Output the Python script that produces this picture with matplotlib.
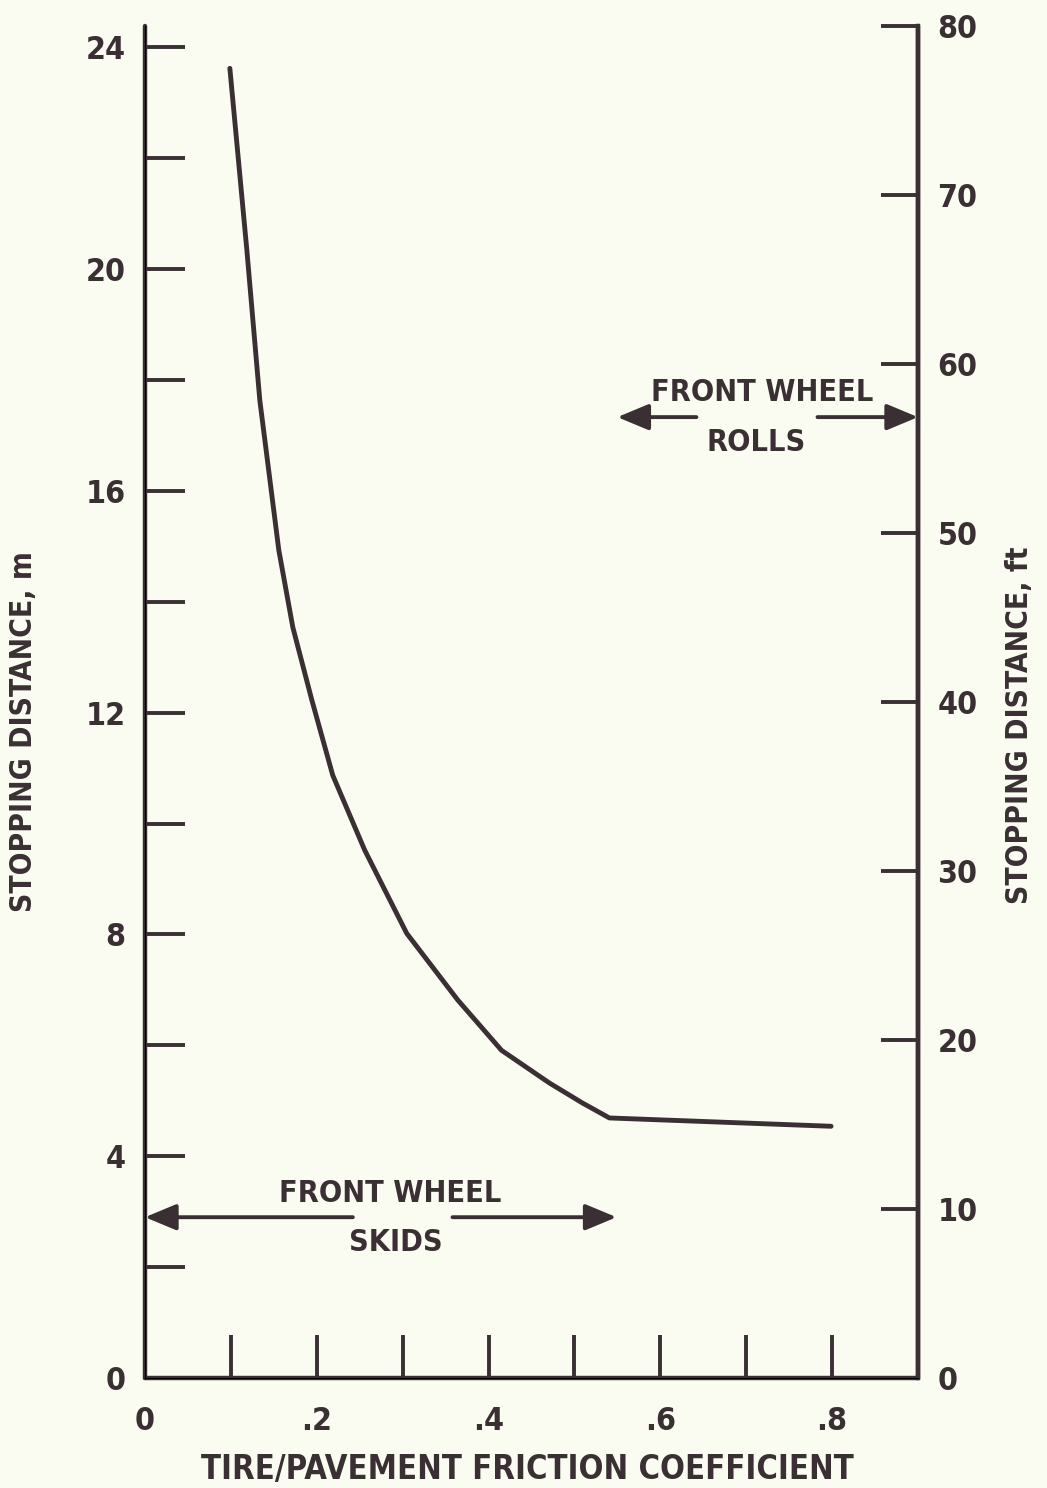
import matplotlib
matplotlib.use("Agg")
import matplotlib.pyplot as plt
from matplotlib.ticker import FixedLocator, FixedFormatter

# ---- data ----
mu = [0.0988, 0.1186, 0.1337, 0.1558, 0.1721, 0.1942, 0.2186, 0.2558, 0.3047,
      0.3640, 0.4151, 0.4709, 0.5093, 0.5407, 0.7988]
dist_m = [23.62, 20.34, 17.63, 14.93, 13.54, 12.23, 10.87, 9.52, 8.02,
          6.82, 5.91, 5.32, 4.96, 4.69, 4.54]

x_major = [0, 0.2, 0.4, 0.6, 0.8]
x_major_labels = ["0", ".2", ".4", ".6", ".8"]
x_minor = [0.1, 0.3, 0.5, 0.7]
y_major = [0, 4, 8, 12, 16, 20, 24]
y_minor = [2, 6, 10, 14, 18, 22]
ft_ticks = [0, 10, 20, 30, 40, 50, 60, 70, 80]

# annotation geometry (data coords)
skid_y = 2.9
skid_left = (0.0, 0.242)
skid_right = (0.358, 0.549)
roll_y = 17.33
roll_left = (0.55, 0.642)
roll_right = (0.783, 0.9)

FT_PER_M = 3.28084
INK = "#3a3034"
BG = "#fbfcf1"
FAM = ["DejaVu Sans"]
STRETCH = "condensed"

plt.rcParams["font.family"] = FAM
plt.rcParams["font.weight"] = "bold"
plt.rcParams["font.stretch"] = STRETCH

W, H = 1047, 1488
fig = plt.figure(figsize=(W / 100, H / 100), dpi=100, facecolor=BG)
ax = fig.add_axes([145 / W, 1 - 1378 / H, 773 / W, 1352 / H])
ax.set_facecolor(BG)

ax.plot(mu, dist_m, color=INK, lw=3.5, solid_capstyle="round",
        solid_joinstyle="round")

ax.set_xlim(0, 0.9)
ax.set_ylim(0, 80 / FT_PER_M)

for s in ["left", "bottom", "right"]:
    ax.spines[s].set_linewidth(3.2)
    ax.spines[s].set_color(INK)
    ax.spines[s].set_capstyle("round")
ax.spines["top"].set_visible(False)

ax.xaxis.set_major_locator(FixedLocator(x_major))
ax.xaxis.set_major_formatter(FixedFormatter(x_major_labels))
ax.xaxis.set_minor_locator(FixedLocator(x_minor))
ax.yaxis.set_major_locator(FixedLocator(y_major))
ax.yaxis.set_minor_locator(FixedLocator(y_minor))

tick_font = dict(family=FAM, weight="bold", stretch=STRETCH, size=23)
ax.tick_params(axis="x", which="both", direction="in", length=31, width=2.8,
               color=INK, labelcolor=INK, pad=20)
ax.tick_params(axis="y", which="both", direction="in", length=29, width=2.8,
               color=INK, labelcolor=INK, pad=14)
ax.tick_params(axis="y", which="both", right=False)

# right axis in feet
ax2 = ax.twinx()
ax2.set_ylim(0, 80)
ax2.spines["top"].set_visible(False)
ax2.spines["right"].set_linewidth(3.2)
ax2.spines["right"].set_color(INK)
ax2.yaxis.set_major_locator(FixedLocator(ft_ticks))
ax2.tick_params(axis="y", direction="in", length=27, width=2.8, color=INK,
                labelcolor=INK, pad=14)

for lab in ax.get_xticklabels() + ax.get_yticklabels() + ax2.get_yticklabels():
    lab.set_fontproperties(tick_font)

label_kw = dict(color=INK, fontweight="bold", fontstretch=STRETCH,
                ha="center", va="center")
fig.text(527 / W, 1 - 1470 / H, "TIRE/PAVEMENT FRICTION COEFFICIENT",
         fontsize=23.5, **label_kw)
fig.text(24 / W, 1 - 732 / H, "STOPPING DISTANCE, m", rotation=90,
         fontsize=21.5, **label_kw)
fig.text(1020 / W, 1 - 725 / H, "STOPPING DISTANCE, ft", rotation=90,
         fontsize=21.5, **label_kw)

arrow_kw = dict(arrowstyle="-|>,head_length=1.2,head_width=0.5",
                color=INK, lw=2.8, shrinkA=0, shrinkB=0, mutation_scale=16)

# FRONT WHEEL SKIDS
ax.annotate("", xy=(skid_left[0], skid_y), xytext=(skid_left[1], skid_y),
            arrowprops=arrow_kw)
ax.annotate("", xy=(skid_right[1], skid_y), xytext=(skid_right[0], skid_y),
            arrowprops=arrow_kw)
ax.text(0.285, 3.33, "FRONT WHEEL", fontsize=22, **label_kw)
ax.text(0.292, 2.45, "SKIDS", fontsize=22, **label_kw)

# FRONT WHEEL ROLLS
ax.annotate("", xy=(roll_left[0], roll_y), xytext=(roll_left[1], roll_y),
            arrowprops=arrow_kw)
ax.annotate("", xy=(roll_right[1], roll_y), xytext=(roll_right[0], roll_y),
            arrowprops=arrow_kw)
ax.text(0.719, 17.78, "FRONT WHEEL", fontsize=22, **label_kw)
ax.text(0.712, 16.87, "ROLLS", fontsize=22, **label_kw)

fig.savefig("out.png", dpi=100, facecolor=BG)
